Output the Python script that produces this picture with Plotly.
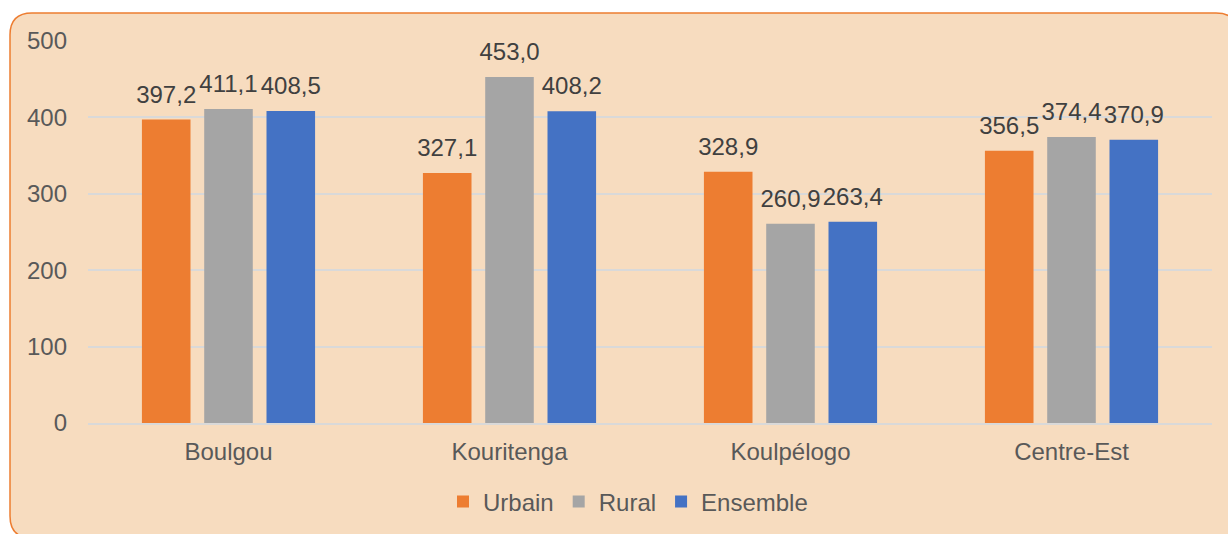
import plotly.graph_objects as go

categories = ["Boulgou", "Kouritenga", "Koulpélogo", "Centre-Est"]
urbain = [397.2, 327.1, 328.9, 356.5]
rural = [411.1, 453.0, 260.9, 374.4]
ensemble = [408.5, 408.2, 263.4, 370.9]
series_names = ["Urbain", "Rural", "Ensemble"]
series_colors = ["#ED7D31", "#A5A5A5", "#4472C4"]
y_ticks = [0, 100, 200, 300, 400, 500]

W, H = 1228, 534
FONT = "Liberation Sans, Arial, sans-serif"
FS = 24

fig = go.Figure()
for name, vals, col in zip(series_names, [urbain, rural, ensemble], series_colors):
    fig.add_trace(go.Bar(
        x=categories, y=vals, name=name, marker=dict(color=col, line=dict(width=0)),
        hoverinfo="x+y+name",
    ))
# value labels, grouped like the bars
for name, vals in zip(series_names, [urbain, rural, ensemble]):
    fig.add_trace(go.Scatter(
        x=categories, y=vals, mode="markers+text", showlegend=False,
        text=[f"{v:.1f}".replace(".", ",") for v in vals],
        textposition="top center",
        textfont=dict(size=FS, color="#404040", family=FONT),
        marker=dict(size=16, opacity=0), cliponaxis=False, hoverinfo="skip",
    ))

def px(x):
    return x / W

def py(y):
    return 1 - y / H

# rounded panel
x0, x1, y0, y1, r = 10, 1238, 13, 538, 22
path = (
    f"M {px(x0 + r)} {py(y0)} L {px(x1 - r)} {py(y0)} "
    f"Q {px(x1)} {py(y0)} {px(x1)} {py(y0 + r)} "
    f"L {px(x1)} {py(y1 - r)} Q {px(x1)} {py(y1)} {px(x1 - r)} {py(y1)} "
    f"L {px(x0 + r)} {py(y1)} Q {px(x0)} {py(y1)} {px(x0)} {py(y1 - r)} "
    f"L {px(x0)} {py(y0 + r)} Q {px(x0)} {py(y0)} {px(x0 + r)} {py(y0)} Z"
)
fig.add_shape(type="path", path=path, xref="paper", yref="paper",
              fillcolor="#F7DCBF", line=dict(color="#ED7D31", width=1.5), layer="below")

fig.update_layout(
    width=W, height=H,
    margin=dict(l=0, r=0, t=0, b=0),
    paper_bgcolor="white", plot_bgcolor="rgba(0,0,0,0)",
    separators=", ",
    barmode="group", bargap=0.335, bargroupgap=0.22,
    scattermode="group", scattergap=0.335,
    font=dict(family=FONT, size=FS, color="#595959"),
    xaxis=dict(domain=[px(88), px(1212)], automargin=False, showgrid=False,
               showline=True, linecolor="#D9D9D9", linewidth=1.5, ticks="",
               tickfont=dict(size=FS, color="#595959"), ticklabelstandoff=6),
    yaxis=dict(domain=[py(423), py(41)], range=[0, 500], automargin=False,
               tickvals=y_ticks, showgrid=True, gridcolor="#D9D9D9", gridwidth=1.5,
               zeroline=False, showline=False, ticks="",
               tickfont=dict(size=FS, color="#595959"), ticklabelstandoff=20),
    showlegend=True,
    legend=dict(orientation="h", x=px(628), xanchor="center", y=py(502), yanchor="middle",
                bgcolor="rgba(0,0,0,0)", font=dict(size=FS, color="#595959"),
                itemwidth=30, traceorder="normal"),
)

fig.write_html("out.html", config={"displayModeBar": False},
               post_script="document.body.style.margin='0';")
